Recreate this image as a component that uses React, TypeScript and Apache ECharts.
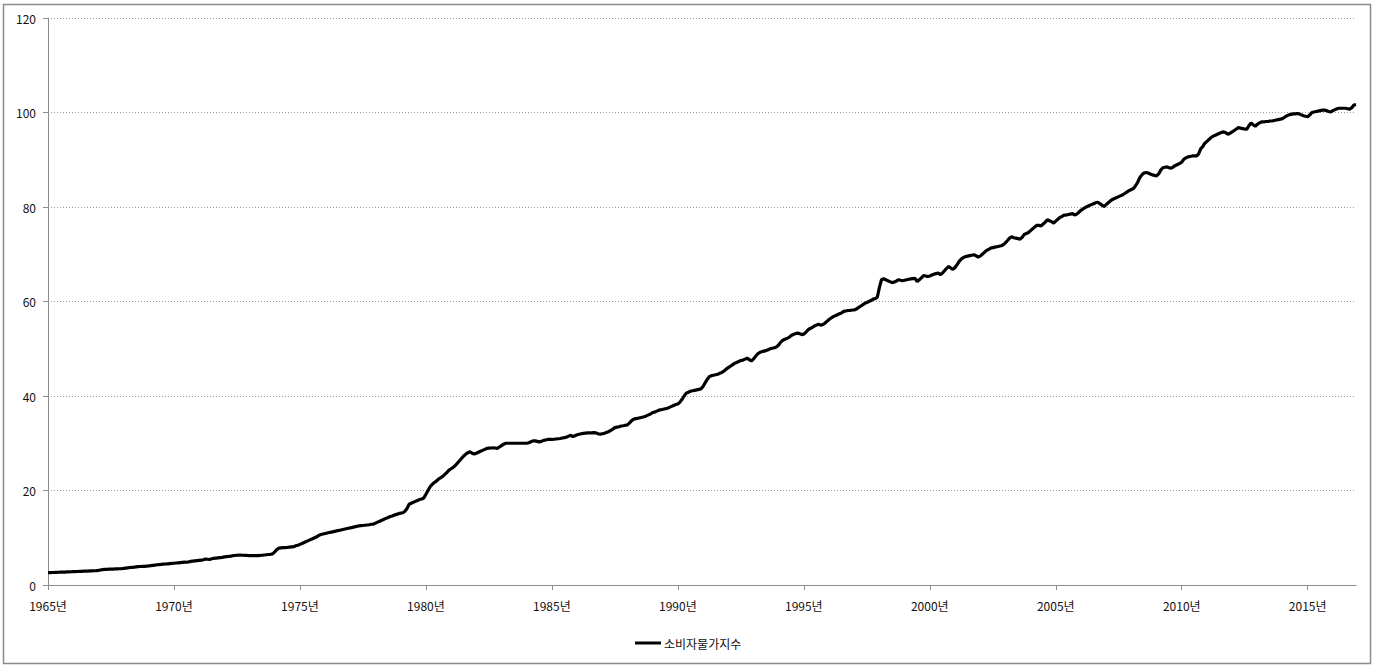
import React, { useEffect, useRef } from "react";
import * as echarts from "echarts";

const startYear = 1965;
const endYear = 2016;
const seriesName = "소비자물가지수";
const yTicks = [0, 20, 40, 60, 80, 100, 120];

// Monthly CPI values, one row per year (Jan..Dec)
const cpi: number[][] = [
  [2.60, 2.62, 2.65, 2.66, 2.68, 2.70, 2.72, 2.73, 2.74, 2.76, 2.77, 2.80], // 1965
  [2.82, 2.84, 2.86, 2.88, 2.90, 2.92, 2.94, 2.95, 2.98, 3.00, 3.02, 3.05], // 1966
  [3.10, 3.18, 3.25, 3.30, 3.32, 3.34, 3.36, 3.38, 3.40, 3.42, 3.44, 3.47], // 1967
  [3.52, 3.58, 3.64, 3.70, 3.74, 3.78, 3.84, 3.90, 3.92, 3.94, 3.96, 4.00], // 1968
  [4.04, 4.10, 4.16, 4.22, 4.28, 4.32, 4.36, 4.40, 4.44, 4.48, 4.52, 4.56], // 1969
  [4.60, 4.65, 4.70, 4.75, 4.80, 4.85, 4.82, 4.90, 5.00, 5.05, 5.10, 5.15], // 1970
  [5.20, 5.25, 5.35, 5.50, 5.45, 5.40, 5.55, 5.65, 5.70, 5.75, 5.80, 5.85], // 1971
  [5.95, 6.00, 6.05, 6.10, 6.20, 6.25, 6.30, 6.35, 6.32, 6.30, 6.28, 6.25], // 1972
  [6.20, 6.22, 6.20, 6.20, 6.22, 6.25, 6.30, 6.35, 6.40, 6.45, 6.50, 6.60], // 1973
  [7.00, 7.50, 7.80, 7.85, 7.90, 7.92, 7.95, 8.00, 8.05, 8.10, 8.30, 8.40], // 1974
  [8.60, 8.80, 9.00, 9.20, 9.40, 9.60, 9.80, 10.00, 10.20, 10.50, 10.70, 10.80], // 1975
  [10.90, 11.00, 11.10, 11.20, 11.30, 11.40, 11.50, 11.60, 11.70, 11.80, 11.90, 12.00], // 1976
  [12.10, 12.20, 12.30, 12.40, 12.50, 12.55, 12.60, 12.65, 12.70, 12.75, 12.85, 12.90], // 1977
  [13.10, 13.30, 13.50, 13.70, 13.90, 14.10, 14.30, 14.50, 14.60, 14.80, 14.95, 15.10], // 1978
  [15.20, 15.30, 15.60, 16.20, 17.10, 17.30, 17.50, 17.70, 17.90, 18.10, 18.20, 18.40], // 1979
  [19.20, 20.00, 20.80, 21.30, 21.70, 22.00, 22.40, 22.70, 23.00, 23.40, 23.80, 24.30], // 1980
  [24.60, 24.90, 25.30, 25.80, 26.30, 26.80, 27.30, 27.70, 28.00, 28.20, 27.90, 27.70], // 1981
  [27.90, 28.10, 28.30, 28.50, 28.70, 28.90, 28.95, 29.00, 29.05, 29.00, 28.90, 29.20], // 1982
  [29.50, 29.80, 30.00, 30.00, 30.00, 30.00, 30.00, 30.00, 30.00, 30.00, 30.00, 30.00], // 1983
  [30.00, 30.10, 30.30, 30.50, 30.50, 30.40, 30.30, 30.40, 30.60, 30.70, 30.80, 30.80], // 1984
  [30.80, 30.85, 30.90, 30.95, 31.00, 31.10, 31.20, 31.30, 31.50, 31.70, 31.40, 31.60], // 1985
  [31.80, 31.90, 32.00, 32.10, 32.15, 32.20, 32.20, 32.20, 32.25, 32.20, 32.00, 31.90], // 1986
  [32.00, 32.10, 32.30, 32.45, 32.70, 33.00, 33.30, 33.40, 33.50, 33.65, 33.70, 33.80], // 1987
  [33.90, 34.30, 34.80, 35.10, 35.20, 35.30, 35.40, 35.50, 35.60, 35.80, 36.00, 36.20], // 1988
  [36.50, 36.60, 36.80, 37.00, 37.10, 37.20, 37.30, 37.40, 37.60, 37.80, 38.00, 38.20], // 1989
  [38.30, 38.70, 39.30, 40.00, 40.60, 40.80, 41.00, 41.10, 41.20, 41.30, 41.40, 41.50], // 1990
  [42.00, 42.80, 43.50, 44.10, 44.30, 44.40, 44.50, 44.60, 44.80, 45.00, 45.30, 45.70], // 1991
  [46.00, 46.30, 46.60, 46.90, 47.10, 47.30, 47.50, 47.60, 47.80, 48.00, 47.70, 47.40], // 1992
  [47.80, 48.40, 48.90, 49.20, 49.40, 49.50, 49.60, 49.80, 50.00, 50.10, 50.20, 50.40], // 1993
  [50.80, 51.40, 51.80, 52.00, 52.20, 52.40, 52.80, 53.00, 53.20, 53.30, 53.20, 53.00], // 1994
  [53.10, 53.50, 54.00, 54.30, 54.50, 54.80, 55.00, 55.20, 55.00, 55.10, 55.40, 55.80], // 1995
  [56.20, 56.50, 56.80, 57.00, 57.20, 57.40, 57.60, 57.90, 58.00, 58.10, 58.10, 58.20], // 1996
  [58.20, 58.40, 58.70, 59.00, 59.30, 59.60, 59.80, 60.00, 60.20, 60.50, 60.60, 60.90], // 1997
  [63.00, 64.60, 64.80, 64.60, 64.40, 64.20, 64.00, 64.10, 64.30, 64.60, 64.50, 64.40], // 1998
  [64.50, 64.60, 64.70, 64.80, 64.85, 64.90, 64.20, 64.60, 65.00, 65.50, 65.40, 65.30], // 1999
  [65.40, 65.60, 65.80, 65.90, 66.00, 65.70, 66.00, 66.50, 67.00, 67.40, 67.10, 66.80], // 2000
  [67.20, 67.80, 68.50, 69.00, 69.30, 69.50, 69.60, 69.70, 69.80, 69.90, 69.70, 69.40], // 2001
  [69.60, 70.00, 70.40, 70.80, 71.00, 71.30, 71.40, 71.50, 71.60, 71.70, 71.80, 72.00], // 2002
  [72.40, 72.90, 73.40, 73.70, 73.50, 73.40, 73.30, 73.20, 73.60, 74.20, 74.40, 74.60], // 2003
  [75.00, 75.40, 75.80, 76.10, 76.10, 76.00, 76.40, 76.80, 77.30, 77.10, 76.90, 76.60], // 2004
  [77.00, 77.40, 77.80, 78.00, 78.30, 78.30, 78.40, 78.50, 78.60, 78.30, 78.50, 78.90], // 2005
  [79.30, 79.60, 79.90, 80.10, 80.30, 80.50, 80.70, 80.90, 81.00, 80.70, 80.40, 80.10], // 2006
  [80.50, 80.90, 81.30, 81.60, 81.80, 82.00, 82.20, 82.40, 82.60, 82.90, 83.20, 83.50], // 2007
  [83.70, 83.90, 84.50, 85.20, 86.20, 86.80, 87.20, 87.30, 87.20, 87.00, 86.80, 86.70], // 2008
  [86.60, 87.00, 87.80, 88.30, 88.40, 88.50, 88.30, 88.20, 88.50, 88.80, 89.00, 89.20], // 2009
  [89.50, 90.10, 90.40, 90.60, 90.70, 90.80, 90.80, 90.80, 91.20, 92.30, 92.80, 93.50], // 2010
  [93.90, 94.30, 94.70, 95.00, 95.20, 95.40, 95.60, 95.80, 95.90, 95.70, 95.40, 95.60], // 2011
  [95.90, 96.20, 96.50, 96.80, 96.70, 96.60, 96.50, 96.50, 97.20, 97.80, 97.40, 97.10], // 2012
  [97.50, 97.80, 98.00, 98.00, 98.10, 98.10, 98.20, 98.20, 98.30, 98.40, 98.50, 98.60], // 2013
  [98.70, 99.00, 99.30, 99.50, 99.60, 99.70, 99.70, 99.80, 99.70, 99.50, 99.30, 99.20], // 2014
  [99.10, 99.50, 100.00, 100.10, 100.20, 100.30, 100.40, 100.50, 100.50, 100.40, 100.20, 100.10], // 2015
  [100.40, 100.60, 100.80, 100.90, 100.90, 100.90, 100.90, 100.80, 100.70, 101.00, 101.60, 101.70], // 2016
];

const FONT = "'Noto Sans CJK KR', 'Noto Sans', sans-serif";

export default function App() {
  const ref = useRef<HTMLDivElement>(null);

  useEffect(() => {
    if (!ref.current) return;
    const chart = echarts.init(ref.current, undefined, { renderer: "svg" });

    const categories: string[] = [];
    const values: number[] = [];
    for (let y = startYear; y <= endYear; y++) {
      const row = cpi[y - startYear];
      for (let m = 0; m < 12; m++) {
        categories.push(`${y}-${m + 1}`);
        values.push(row[m]);
      }
    }

    chart.setOption({
      animation: false,
      backgroundColor: "#ffffff",
      textStyle: { fontFamily: FONT },
      graphic: [
        {
          type: "rect",
          shape: { x: 3.5, y: 4.5, width: 1367, height: 659 },
          style: { fill: "none", stroke: "#8c8c8c", lineWidth: 1.5 },
          silent: true,
        },
      ],
      grid: { left: 48, right: 18, top: 18, bottom: 83, containLabel: false },
      legend: {
        left: 630,
        bottom: 14,
        icon: "rect",
        itemWidth: 26,
        itemHeight: 3,
        itemGap: 4,
        textStyle: { fontFamily: FONT, fontSize: 12, color: "#111", padding: [0, 0, 0, -2] },
        data: [seriesName],
      },
      xAxis: {
        type: "category",
        data: categories,
        boundaryGap: false,
        axisLine: { lineStyle: { color: "#8c8c8c", width: 1 } },
        axisTick: {
          show: true,
          interval: 59,
          length: 5,
          lineStyle: { color: "#8c8c8c" },
        },
        axisLabel: {
          interval: 59,
          margin: 14,
          fontSize: 12,
          color: "#111",
          fontFamily: FONT,
          formatter: (v: string) => `${v.split("-")[0]}년`,
        },
        splitLine: { show: false },
      },
      yAxis: {
        type: "value",
        min: yTicks[0],
        max: yTicks[yTicks.length - 1],
        interval: yTicks[1] - yTicks[0],
        axisLine: { show: true, lineStyle: { color: "#8c8c8c", width: 1 } },
        axisTick: { show: true, length: 5, lineStyle: { color: "#8c8c8c" } },
        axisLabel: { margin: 12, fontSize: 12, color: "#111", fontFamily: FONT },
        splitLine: { lineStyle: { color: "#9a9a9a", type: [1, 2], width: 1 } },
      },
      series: [
        {
          name: seriesName,
          type: "line",
          data: values,
          showSymbol: false,
          symbol: "none",
          lineStyle: { color: "#000000", width: 3.2 },
          itemStyle: { color: "#000000" },
        },
      ],
    });

    return () => chart.dispose();
  }, []);

  return (
    <div
      ref={ref}
      style={{ position: "fixed", left: 0, top: 0, width: 1374, height: 668, background: "#fff" }}
    />
  );
}
